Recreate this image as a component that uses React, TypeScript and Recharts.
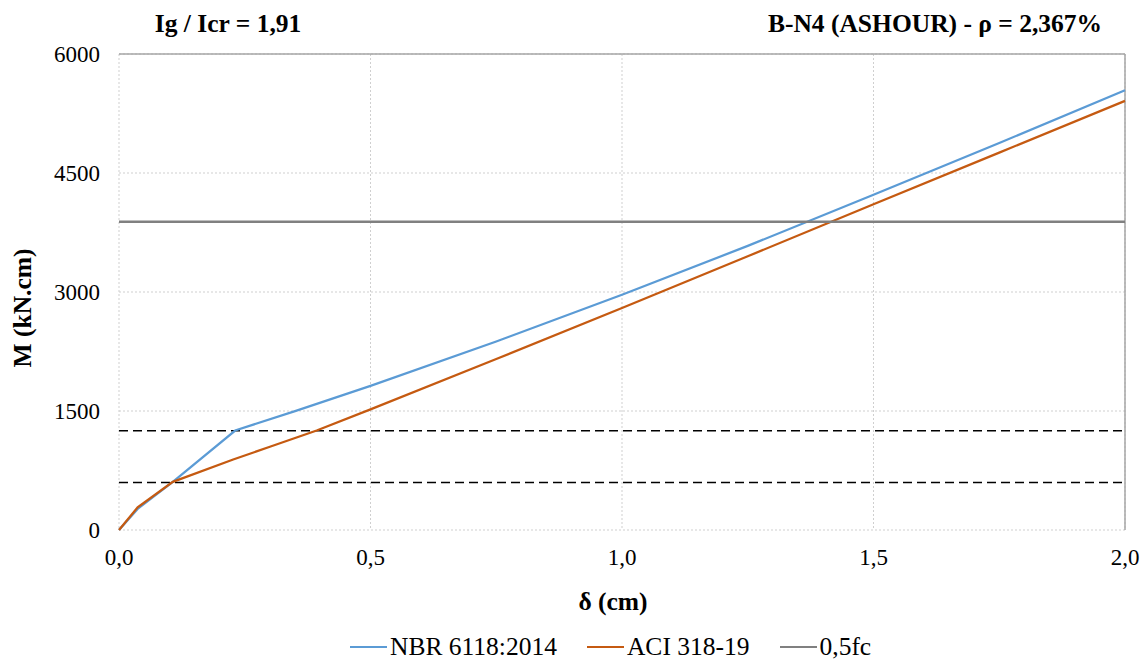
import React from "react";
import {
  LineChart, Line, XAxis, YAxis, CartesianGrid, ReferenceLine,
} from "recharts";

// deflection (cm) / moment (kN.cm)
const nbrX = [0, 0.037, 0.107, 0.231, 0.35, 0.5, 0.75, 1.0, 1.25, 1.5, 1.75, 2.0];
const nbrM = [0, 265, 607, 1254, 1498, 1816, 2376, 2966, 3581, 4226, 4878, 5544];
const aciX = [0, 0.037, 0.107, 0.227, 0.3, 0.393, 0.5, 0.75, 1.0, 1.25, 1.5, 1.75, 2.0];
const aciM = [0, 285, 607, 889, 1049, 1254, 1521, 2155, 2798, 3450, 4106, 4757, 5409];
const fcX = [0, 2.0];
const fcM = [3885, 3885];
const dashedLevels = [1250, 600];

const xTicks = [0, 0.5, 1.0, 1.5, 2.0];
const yTicks = [0, 1500, 3000, 4500, 6000];

const SERIES = [
  { name: "NBR 6118:2014", xs: nbrX, ys: nbrM, color: "#5b9bd5", w: 2.25 },
  { name: "ACI 318-19", xs: aciX, ys: aciM, color: "#c55a11", w: 2.25 },
  { name: "0,5fc", xs: fcX, ys: fcM, color: "#808080", w: 2.5 },
];

const toRows = (xs: number[], ys: number[]) => xs.map((x, i) => ({ x, m: ys[i] }));

const FONT = "Liberation Serif, Times New Roman, Times, DejaVu Serif, serif";
const fmtX = (v: number) => v.toFixed(1).replace(".", ",");

function LegendBox() {
  return (
    <div style={{ position: "absolute", left: 350, top: 634, display: "flex", alignItems: "center", fontFamily: FONT, fontSize: 25.5, color: "#000", lineHeight: 1 }}>
      {SERIES.map((s, i) => (
        <div key={s.name} style={{ display: "flex", alignItems: "center", marginLeft: i ? 30 : 0 }}>
          <span style={{ display: "inline-block", width: 37, height: s.w, background: s.color, marginRight: 3 }} />
          <span>{s.name}</span>
        </div>
      ))}
    </div>
  );
}

export default function App() {
  const text = { position: "absolute" as const, fontFamily: FONT, fontWeight: 700, fontSize: 25.5, color: "#000", lineHeight: 1, whiteSpace: "nowrap" as const };
  return (
    <div style={{ position: "absolute", left: 0, top: 0, width: 1140, height: 659, background: "#fff" }}>
      <LineChart width={1140} height={659} margin={{ top: 54, right: 15, bottom: 99, left: 59 }}>
        <CartesianGrid stroke="#cfcfcf" strokeDasharray="2 2" />
        <XAxis
          type="number" dataKey="x" domain={[0, 2]} ticks={xTicks} tickFormatter={fmtX}
          axisLine={false} tickLine={false} tickSize={0} tickMargin={19} height={30}
          tick={{ fill: "#000", fontSize: 23, fontFamily: FONT }} allowDuplicatedCategory={false}
        />
        <YAxis
          type="number" domain={[0, 6000]} ticks={yTicks} width={60}
          axisLine={false} tickLine={false} tickSize={0} tickMargin={19}
          tick={{ fill: "#000", fontSize: 23, fontFamily: FONT }}
        />
        <ReferenceLine y={6000} stroke="#a6a6a6" strokeWidth={1.5} />
        <ReferenceLine x={2} stroke="#a6a6a6" strokeWidth={1.5} />
        {dashedLevels.map((v) => (
          <ReferenceLine key={v} y={v} stroke="#000" strokeWidth={1.5} strokeDasharray="9 5" />
        ))}
        {SERIES.map((s) => (
          <Line
            key={s.name} name={s.name} data={toRows(s.xs, s.ys)} dataKey="m" type="linear"
            stroke={s.color} strokeWidth={s.w} dot={false} activeDot={false} isAnimationActive={false}
          />
        ))}
      </LineChart>

      <LegendBox />
      <div style={{ ...text, left: 228, top: 10.5, transform: "translateX(-50%)" }}>Ig / Icr = 1,91</div>
      <div style={{ ...text, left: 935, top: 10.5, transform: "translateX(-50%)" }}>B-N4 (ASHOUR) - ρ = 2,367%</div>
      <div style={{ ...text, left: 613, top: 589, transform: "translateX(-50%)" }}>δ (cm)</div>
      <div style={{ ...text, left: 23, top: 308, transform: "translate(-50%, -50%) rotate(-90deg)" }}>M (kN.cm)</div>
    </div>
  );
}
